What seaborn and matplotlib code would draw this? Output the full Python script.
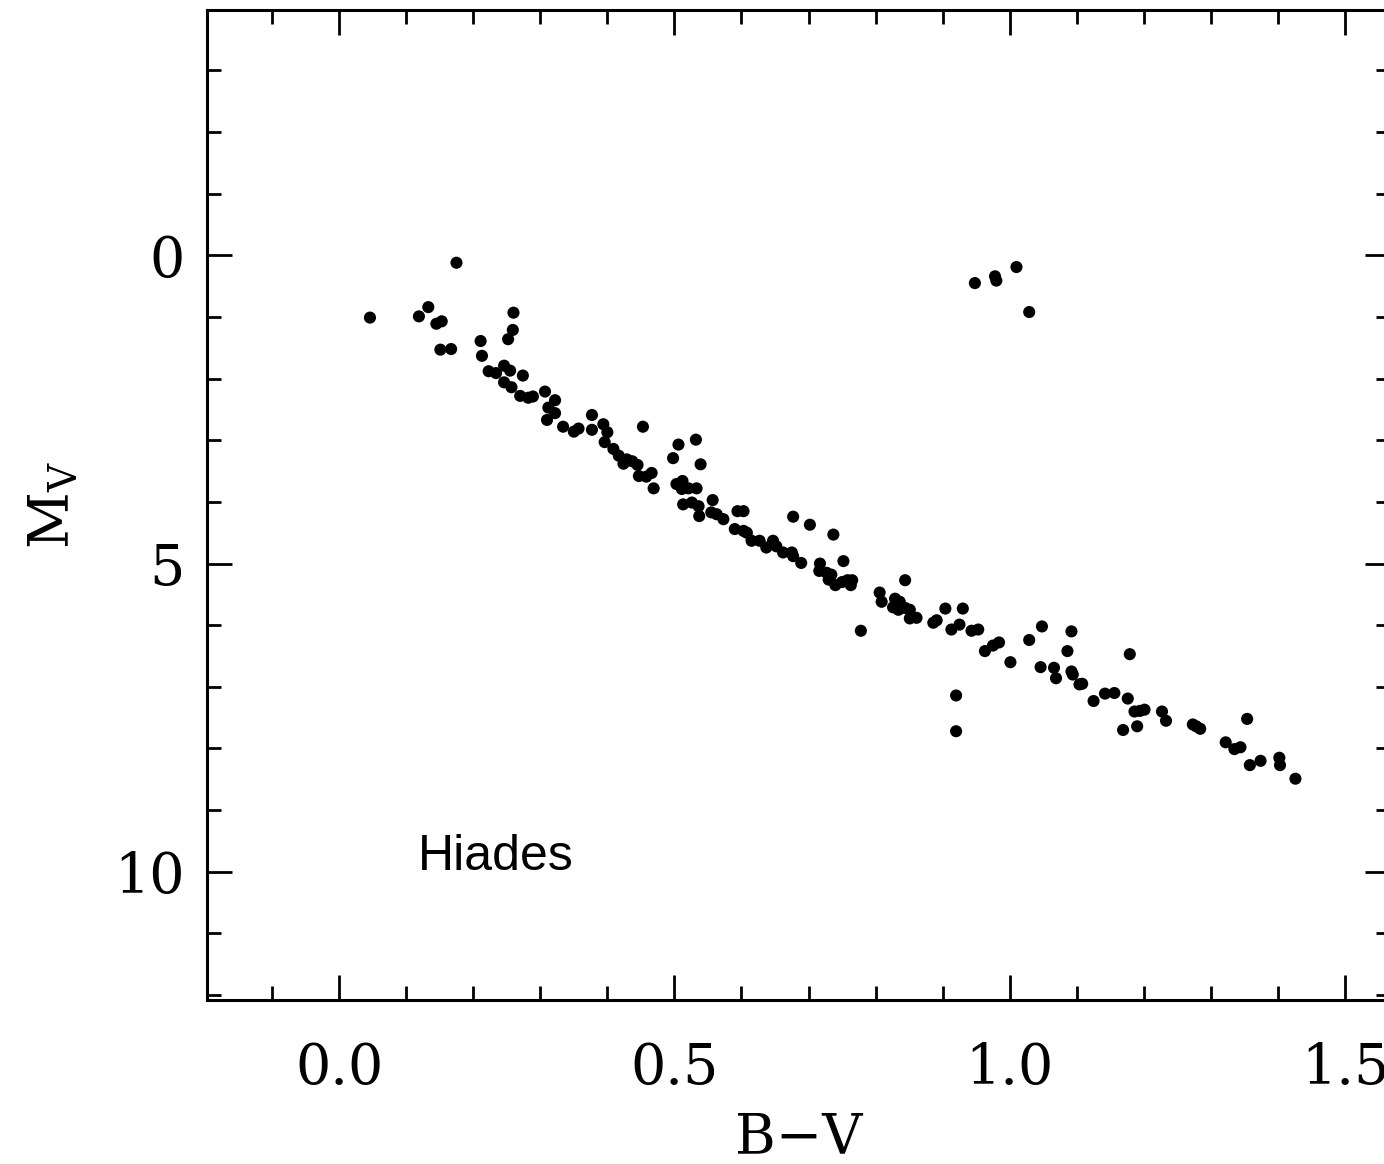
import matplotlib
matplotlib.use("Agg")
import matplotlib.pyplot as plt
import seaborn as sns
import pandas as pd
from matplotlib.ticker import MultipleLocator

# B-V colour index of Hyades stars
bv = [
    0.175, 0.046, 0.119, 0.133, 0.145, 0.153, 0.151, 0.167, 0.260, 0.259,
    0.252, 0.211, 0.213, 0.223, 0.234, 0.246, 0.255, 0.274, 0.246, 0.257,
    0.270, 0.282, 0.289, 0.307, 0.322, 0.312, 0.322, 0.310, 0.334, 0.350,
    0.357, 0.377, 0.377, 0.394, 0.400, 0.453, 0.396, 0.409, 0.417, 0.424,
    0.429, 0.437, 0.445, 0.447, 0.458, 0.466, 0.469, 0.506, 0.498, 0.532,
    0.539, 0.503, 0.512, 0.511, 0.521, 0.533, 0.513, 0.526, 0.536, 0.537,
    0.557, 0.555, 0.563, 0.573, 0.594, 0.603, 0.590, 0.603, 0.608, 0.615,
    0.627, 0.637, 0.647, 0.652, 0.662, 0.675, 0.677, 0.689, 0.677, 0.702,
    0.737, 0.752, 0.717, 0.716, 0.727, 0.734, 0.730, 0.740, 0.750, 0.758,
    0.763, 0.765, 0.778, 0.806, 0.809, 0.829, 0.836, 0.826, 0.834, 0.844,
    0.851, 0.851, 0.861, 0.844, 0.886, 0.891, 0.904, 0.930, 0.913, 0.925,
    0.943, 0.953, 0.920, 0.920, 0.963, 0.975, 0.984, 1.001, 1.029, 1.048,
    1.046, 1.066, 1.069, 1.092, 1.086, 1.092, 1.094, 1.104, 1.108, 1.125,
    1.142, 1.156, 1.179, 1.176, 1.186, 1.194, 1.201, 1.169, 1.190, 1.227,
    1.233, 1.273, 1.278, 1.284, 1.354, 1.322, 1.335, 1.344, 1.358, 1.374,
    1.402, 1.403, 1.426, 0.948, 0.978, 0.980, 1.010, 1.029,
]
# absolute visual magnitude
mv = [
    0.12, 1.01, 0.99, 0.84, 1.11, 1.07, 1.53, 1.52, 0.93, 1.21,
    1.36, 1.39, 1.63, 1.88, 1.91, 1.79, 1.87, 1.95, 2.06, 2.14,
    2.28, 2.31, 2.29, 2.21, 2.35, 2.47, 2.56, 2.67, 2.78, 2.86,
    2.81, 2.59, 2.83, 2.74, 2.87, 2.78, 3.03, 3.14, 3.25, 3.38,
    3.31, 3.34, 3.40, 3.58, 3.59, 3.53, 3.78, 3.07, 3.29, 2.99,
    3.39, 3.71, 3.66, 3.79, 3.78, 3.78, 4.04, 4.01, 4.07, 4.23,
    3.97, 4.17, 4.20, 4.28, 4.15, 4.15, 4.44, 4.47, 4.50, 4.63,
    4.63, 4.74, 4.63, 4.72, 4.82, 4.82, 4.88, 4.99, 4.24, 4.37,
    4.53, 4.96, 5.00, 5.12, 5.15, 5.18, 5.26, 5.35, 5.30, 5.27,
    5.35, 5.27, 6.09, 5.47, 5.62, 5.57, 5.62, 5.71, 5.75, 5.72,
    5.75, 5.89, 5.88, 5.27, 5.96, 5.92, 5.73, 5.73, 6.07, 5.99,
    6.09, 6.07, 7.14, 7.72, 6.42, 6.33, 6.28, 6.60, 6.24, 6.02,
    6.68, 6.69, 6.86, 6.10, 6.42, 6.75, 6.80, 6.96, 6.95, 7.23,
    7.11, 7.10, 6.47, 7.19, 7.40, 7.39, 7.37, 7.70, 7.64, 7.40,
    7.55, 7.61, 7.64, 7.68, 7.52, 7.90, 8.01, 7.98, 8.27, 8.20,
    8.15, 8.27, 8.49, 0.45, 0.34, 0.41, 0.19, 0.92,
]

x_ticks = [0.0, 0.5, 1.0, 1.5]
x_tick_labels = ["0.0", "0.5", "1.0", "1.5"]
y_ticks = [0, 5, 10]
y_tick_labels = ["0", "5", "10"]
label_text = "Hiades"

df = pd.DataFrame({"bv": bv, "mv": mv})

sns.set_theme(style="white")
plt.rcParams["font.family"] = ["DejaVu Serif"]
plt.rcParams["mathtext.fontset"] = "dejavuserif"
plt.rcParams["text.color"] = "black"
plt.rcParams["axes.labelcolor"] = "black"
plt.rcParams["xtick.color"] = "black"
plt.rcParams["ytick.color"] = "black"

W, H = 1384, 1164
fig = plt.figure(figsize=(W / 100, H / 100), dpi=100)
left, right, top, bottom = 207, 1390, 10, 1000
ax = fig.add_axes([left / W, 1 - bottom / H, (right - left) / W, (bottom - top) / H])

sns.scatterplot(data=df, x="bv", y="mv", ax=ax, color="black", s=76,
                edgecolor="none", linewidth=0, legend=False)

ax.set_xlim(-0.197, 1.567)
ax.set_ylim(12.08, -3.98)

ax.set_xticks(x_ticks)
ax.set_xticklabels(x_tick_labels)
ax.set_yticks(y_ticks)
ax.set_yticklabels(y_tick_labels)
ax.xaxis.set_minor_locator(MultipleLocator(0.1))
ax.yaxis.set_minor_locator(MultipleLocator(1))

for sp in ax.spines.values():
    sp.set_visible(True)
    sp.set_linewidth(2.2)
    sp.set_color("black")

ax.tick_params(which="both", direction="in", top=True, right=True,
               bottom=True, left=True, color="black", labelcolor="black", width=2.0)
ax.tick_params(which="major", length=18)
ax.tick_params(which="minor", length=10)
ax.tick_params(axis="x", which="major", labelsize=40, pad=30)
ax.tick_params(axis="y", which="major", labelsize=40, pad=16)

ax.set_xlabel("B\u2212V", fontsize=40, labelpad=10, color="black")
ax.set_ylabel(r"$\mathrm{M_V}$", fontsize=40, labelpad=24, color="black")

ax.text(0.118, 9.97, label_text, fontsize=36, ha="left", va="baseline",
        family=["Liberation Sans", "DejaVu Sans"], color="black")

ax.grid(False)
fig.savefig("out.png", dpi=100, facecolor="white")
